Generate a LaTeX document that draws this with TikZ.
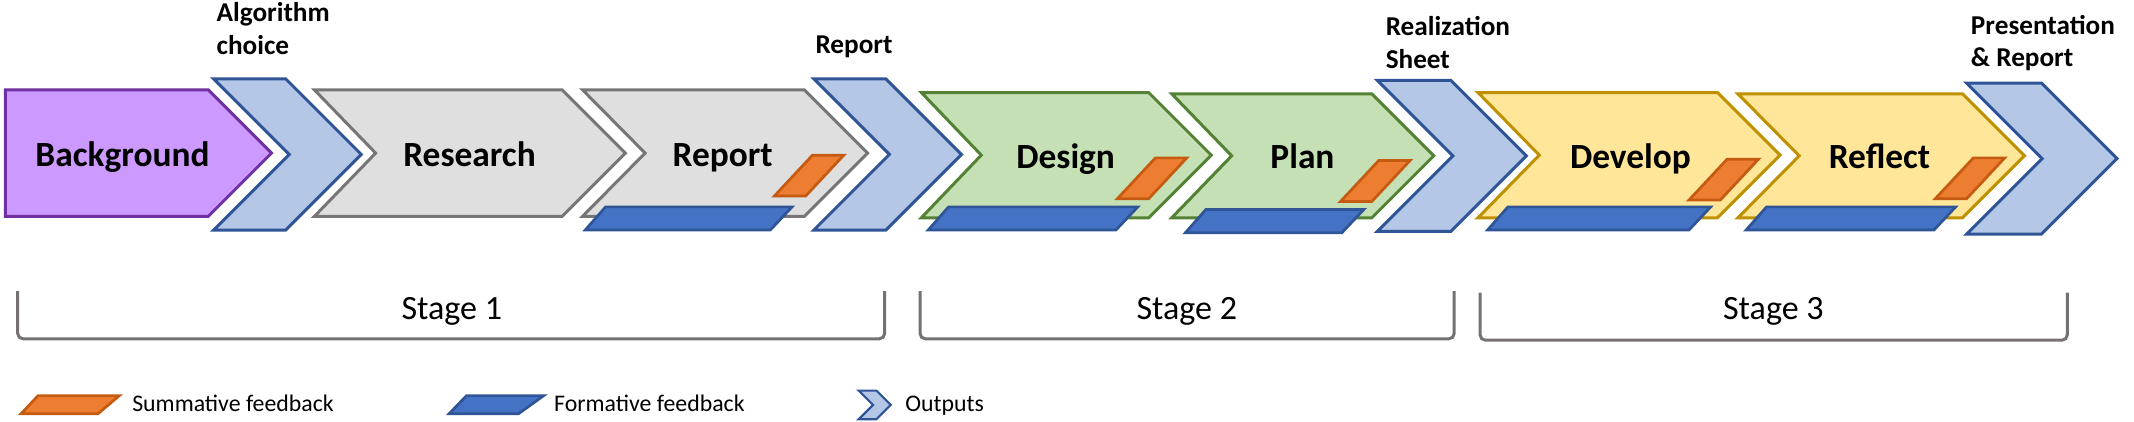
\documentclass[tikz,border=0pt]{standalone}
\usepackage{fontspec}
\setmainfont{Carlito}

\definecolor{bgfill}{HTML}{CC99FF}
\definecolor{bgline}{HTML}{7030A0}
\definecolor{outfill}{HTML}{B4C7E7}
\definecolor{outdraw}{HTML}{2F5597}
\definecolor{greyfill}{HTML}{DFDFDF}
\definecolor{greyline}{HTML}{767676}
\definecolor{greenfill}{HTML}{C5E0B4}
\definecolor{greenline}{HTML}{548235}
\definecolor{yellowfill}{HTML}{FFE699}
\definecolor{yellowline}{HTML}{BF9000}
\definecolor{formfill}{HTML}{4472C4}
\definecolor{sumfill}{HTML}{ED7D31}
\definecolor{sumline}{HTML}{C55A11}
\definecolor{stageline}{HTML}{767171}

% #1 style, #2 left x, #3 top y, #4 top right x, #5 height, #6 notch depth
\newcommand{\phasebox}[6]{%
  \draw[#1] (#2,#3) -- (#4,#3) -- ++(#5/2,#5/2) -- (#4,#3+#5) -- (#2,#3+#5) -- ++(#6,-#5/2) -- cycle;}
% formative bar: bottom left x, bottom right x, bottom y
\newcommand{\formbar}[3]{%
  \draw[formative] (#1,#3) -- (#2,#3) -- ++(16,-17) -- (#1+15,#3-17) -- cycle;}
% summative tag: bottom left x, bottom y
\newcommand{\sumbar}[2]{%
  \draw[summative] (#1,#2) -- ++(23,0) -- ++(28,-30) -- ++(-23,0) -- cycle;}

\begin{document}
\begin{tikzpicture}[x=1pt, y=-1pt,
    box/.style={line width=2.2pt, line join=miter},
    background/.style={box, draw=bgline, fill=bgfill},
    output/.style={box, draw=outdraw, fill=outfill},
    greybox/.style={box, draw=greyline, fill=greyfill},
    greenbox/.style={box, draw=greenline, fill=greenfill},
    yellowbox/.style={box, draw=yellowline, fill=yellowfill},
    formative/.style={line width=2pt, draw=outdraw, fill=formfill},
    summative/.style={line width=2pt, draw=sumline, fill=sumfill},
    stage/.style={line width=2.2pt, draw=stageline, rounded corners=4pt},
    phaselabel/.style={inner sep=0pt, anchor=base, font=\fontsize{26}{31}\selectfont\bfseries},
    outlabel/.style={inner sep=0pt, anchor=base west, align=left, font=\fontsize{20}{24}\selectfont\bfseries},
    stagelabel/.style={inner sep=0pt, anchor=base, font=\fontsize{25}{30}\selectfont},
    legendlabel/.style={inner sep=0pt, anchor=base west, font=\fontsize{17.5}{21}\selectfont}
  ]
\useasboundingbox (0,0) rectangle (1568,310);

% stage 1
\phasebox{background}{4}{66}{153}{93}{0}
\phasebox{output}{157}{58}{210}{111}{55.5}
\phasebox{greybox}{231}{66}{413}{93}{45}
\phasebox{greybox}{428}{66}{591}{93}{46}
\formbar{430}{566}{169}
\sumbar{569}{144}
\phasebox{output}{598}{58}{651}{111}{55.5}

% stage 2
\phasebox{greenbox}{677}{68}{844}{92}{44}
\formbar{682}{820}{169}
\sumbar{821}{146}
\phasebox{greenbox}{861}{69}{1008}{91}{44}
\formbar{871}{986}{171}
\sumbar{985}{148}
\phasebox{output}{1012}{59}{1066}{111}{55.5}

% stage 3
\phasebox{yellowbox}{1086}{68}{1262}{92}{45}
\formbar{1093}{1241}{169}
\sumbar{1241}{147}
\phasebox{yellowbox}{1277}{69}{1442}{91}{45}
\formbar{1283}{1421}{169}
\sumbar{1422}{146}
\phasebox{output}{1445}{61}{1500}{111}{55.5}

\node[phaselabel] (background) at (90,122.5) {Background};
\node[phaselabel] (research) at (345,122.5) {Research};
\node[phaselabel] (report) at (531,122.5) {Report};
\node[phaselabel] (design) at (783,123.5) {Design};
\node[phaselabel] (plan) at (957,123.5) {Plan};
\node[phaselabel] (develop) at (1198,123.5) {Develop};
\node[phaselabel] (reflect) at (1381,123.5) {Reflect};

% base is the last line here
\node[outlabel] (algochoice) at (159,40) {Algorithm\\choice};
\node[outlabel] (reportout) at (599,39) {Report};
\node[outlabel] (sheet) at (1018,50) {Realization\\Sheet};
\node[outlabel] (presentation) at (1448,49) {Presentation\\\& Report};

% stages
\draw[stage] (13,214) -- (13,249) -- (650,249) -- (650,214);
\draw[stage] (676,214) -- (676,249) -- (1068.5,249) -- (1068.5,214);
\draw[stage] (1087.5,215) -- (1087.5,250) -- (1519,250) -- (1519,215);
\node[stagelabel] (stage1) at (332,235) {Stage 1};
\node[stagelabel] (stage2) at (872,235) {Stage 2};
\node[stagelabel] (stage3) at (1303,235) {Stage 3};

% legend
\draw[summative] (15.5,304) -- (72,304) -- (87.7,290.7) -- (28,290.7) -- cycle;
\node[legendlabel] (summative) at (97,302) {Summative feedback};
\draw[formative] (330,304) -- (381,304) -- (399.5,290.7) -- (342.8,290.7) -- cycle;
\node[legendlabel] (formative) at (407,302) {Formative feedback};
\phasebox{output, line width=1.6pt}{631}{287}{644}{21}{10.5}
\node[legendlabel] (outputs) at (665,302) {Outputs};
\end{tikzpicture}
\end{document}
